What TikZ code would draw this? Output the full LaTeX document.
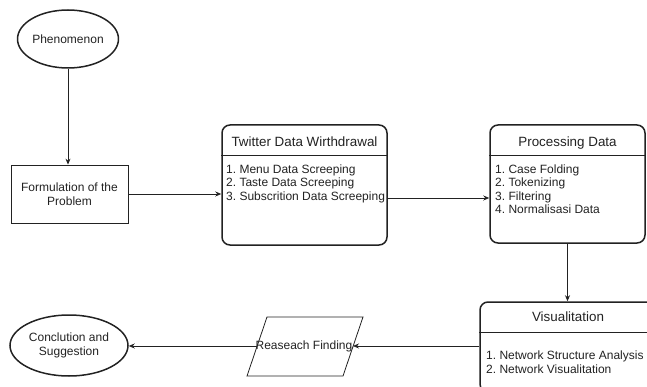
\documentclass[tikz,border=0pt]{standalone}
\usepackage{fontspec}
\setmainfont{Liberation Sans}
\usetikzlibrary{shapes.geometric,arrows.meta}
\definecolor{ink}{HTML}{222222}
\frenchspacing
\begin{document}
\begin{tikzpicture}[x=1pt,y=-1pt,
  thickbox/.style={draw=ink, line width=1.5pt, rounded corners=8pt, inner sep=0pt},
  oval/.style={draw=ink, ellipse, line width=1.5pt, inner sep=0pt, align=center, text=ink, font=\fontsize{12}{14.5}\selectfont},
  plainbox/.style={draw=ink, line width=0.8pt, inner sep=0pt, align=center, text=ink, font=\fontsize{12}{14.5}\selectfont},
  hdr/.style={anchor=base, inner sep=0pt, text=ink, font=\fontsize{13.4}{16}\selectfont},
  itm/.style={anchor=base west, inner sep=0pt, text=ink, font=\fontsize{12}{13.5}\selectfont},
  divider/.style={draw=ink, line width=0.8pt},
  conn/.style={draw=ink, line width=0.8pt, -{Stealth[length=6pt,width=5pt]}},
  ]
\clip (0,0) rectangle (647,387);

% Phenomenon
\node[oval, minimum width=100pt, minimum height=58pt] (ph) at (68,39) {Phenomenon};

% Formulation
\node[plainbox, minimum width=117pt, minimum height=58pt] (fp) at (69.5,194) {Formulation of the\\Problem};

% Twitter Data Withdrawal
\node[thickbox, minimum width=165pt, minimum height=120pt] (tw) at (304.5,185) {};
\draw[divider] (tw.west |- 0,155) -- (tw.east |- 0,155);
\node[hdr] (twh) at (304.5,146.8) {Twitter Data Wirthdrawal};
\node[itm] (tw1) at (226,173.5) {1. Menu Data Screeping};
\node[itm] (tw2) at (226,187) {2. Taste Data Screeping};
\node[itm] (tw3) at (226,200.5) {3. Subscrition Data Screeping};

% Processing Data
\node[thickbox, minimum width=155pt, minimum height=118pt] (pd) at (567.5,184) {};
\draw[divider] (pd.west |- 0,155) -- (pd.east |- 0,155);
\node[hdr] (pdh) at (567.5,146.8) {Processing Data};
\node[itm] (pd1) at (495,173.5) {1. Case Folding};
\node[itm] (pd2) at (495,187) {2. Tokenizing};
\node[itm] (pd3) at (495,200.5) {3. Filtering};
\node[itm] (pd4) at (495,214) {4. Normalisasi Data};

% Visualitation
\node[thickbox, minimum width=176pt, minimum height=90pt] (vs) at (568,347) {};
\draw[divider] (vs.west |- 0,332) -- (vs.east |- 0,332);
\node[hdr] (vsh) at (568,321.8) {Visualitation};
\node[itm] (vs1) at (486,359.5) {1. Network Structure Analysis};
\node[itm] (vs2) at (486,373) {2. Network Visualitation};

% Reaseach Finding (parallelogram)
\draw[ink, line width=0.8pt] (267,317) -- (363,317) -- (343,376) -- (247,376) -- cycle;
\node[inner sep=0pt, text=ink, font=\fontsize{12}{14.5}\selectfont] (rf) at (304,346) {Reaseach Finding};
\coordinate (rfL) at (257,346);
\coordinate (rfR) at (353,346);

% Conclusion
\node[oval, minimum width=118pt, minimum height=61pt] (cs) at (69,345.5) {Conclution and\\Suggestion};

% Connectors
\draw[conn] (ph.south) -- (ph.south |- fp.north);
\draw[conn] (fp.east) -- (fp.east -| tw.west);
\draw[conn] (tw.east |- 0,198) -- (pd.west |- 0,198);
\draw[conn] (pd.south) -- (pd.south |- vs.north);
\draw[conn] (vs.west |- rfR) -- (rfR);
\draw[conn] (rfL) -- (rfL -| cs.east);
\end{tikzpicture}
\end{document}
